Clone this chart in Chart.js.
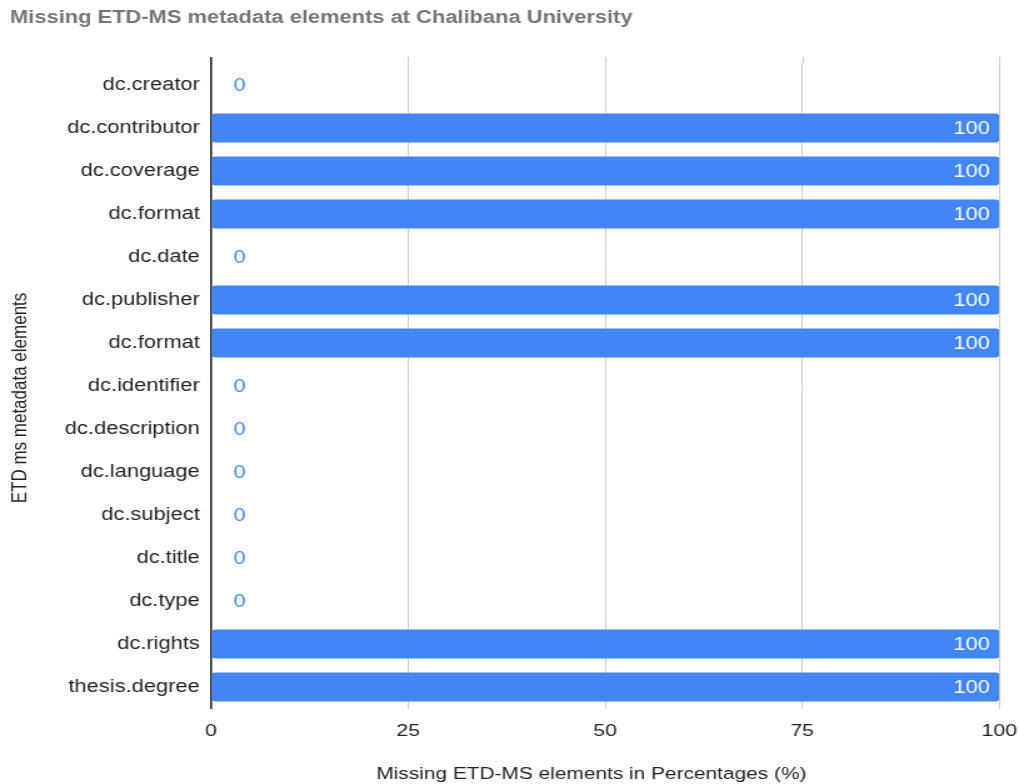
<!DOCTYPE html>
<html>
<head>
<meta charset="utf-8">
<title>Missing ETD-MS metadata elements</title>
<script src="https://cdn.jsdelivr.net/npm/chart.js@4/dist/chart.umd.min.js"></script>
<style>
    html, body { margin: 0; padding: 0; background: #fff; overflow: hidden; }
    /* the reference is stretched sideways, so the canvas is drawn narrow and widened */
    #chart { display: block; width: 1019px !important; height: 784px !important; }
</style>
</head>
<body>
<canvas id="chart" width="815" height="784"></canvas>
<script>
// --- Data ---
const categories = [
    'dc.creator', 'dc.contributor', 'dc.coverage', 'dc.format', 'dc.date',
    'dc.publisher', 'dc.format', 'dc.identifier', 'dc.description', 'dc.language',
    'dc.subject', 'dc.title', 'dc.type', 'dc.rights', 'thesis.degree'
];
const missingPercent = [0, 100, 100, 100, 0, 100, 100, 0, 0, 0, 0, 0, 0, 100, 100];
const xTickValues = [0, 25, 50, 75, 100];

const chartTitle = 'Missing ETD-MS metadata elements at Chalibana University';
const xAxisTitle = 'Missing ETD-MS elements in Percentages (%)';
const yAxisTitle = 'ETD ms metadata elements';

const BAR_BLUE = '#4285F4';
const FONT = "'Liberation Sans', Arial, sans-serif";

Chart.defaults.font.family = FONT;
Chart.defaults.color = '#222';

// grid lines in the reference start a little above the first band
const gridTop = {
    id: 'gridTop',
    beforeDatasetsDraw(chart) {
        const ctx = chart.ctx;
        const x = chart.scales.x;
        const top = chart.chartArea.top;
        ctx.save();
        xTickValues.forEach(v => {
            const px = Math.round(x.getPixelForValue(v)) + 0.5;
            ctx.strokeStyle = v === 0 ? '#222' : '#cccccc';
            ctx.lineWidth = v === 0 ? 1.6 : 1;
            ctx.beginPath();
            ctx.moveTo(v === 0 ? x.getPixelForValue(v) : px, top - 6.5);
            ctx.lineTo(v === 0 ? x.getPixelForValue(v) : px, top);
            ctx.stroke();
        });
        ctx.restore();
    }
};

// value labels at the bar ends
const barLabels = {
    id: 'barLabels',
    afterDatasetsDraw(chart) {
        const ctx = chart.ctx;
        const meta = chart.getDatasetMeta(0);
        ctx.save();
        ctx.font = `17.5px ${FONT}`;
        ctx.textBaseline = 'middle';
        meta.data.forEach((bar, i) => {
            const v = chart.data.datasets[0].data[i];
            if (v > 10) {
                ctx.fillStyle = '#fff';
                ctx.textAlign = 'right';
                ctx.fillText(String(v), bar.x - 7.5, bar.y + 1);
            } else {
                ctx.fillStyle = BAR_BLUE;
                ctx.textAlign = 'left';
                ctx.fillText(String(v), bar.base + 18, bar.y + 1);
            }
        });
        ctx.restore();
    }
};

// axis titles, placed like the reference (not centred on the plot)
const axisTitles = {
    id: 'axisTitles',
    afterDraw(chart) {
        const ctx = chart.ctx;
        ctx.save();
        ctx.fillStyle = '#222';
        ctx.textAlign = 'center';
        ctx.textBaseline = 'middle';
        ctx.font = `16.7px ${FONT}`;
        ctx.fillText(xAxisTitle, 473, 774);
        ctx.font = `17px ${FONT}`;
        ctx.translate(16, 398);
        ctx.rotate(-Math.PI / 2);
        ctx.fillText(yAxisTitle, 0, 0);
        ctx.restore();
    }
};

new Chart(document.getElementById('chart'), {
    type: 'bar',
    data: {
        labels: categories,
        datasets: [{
            data: missingPercent,
            backgroundColor: BAR_BLUE,
            borderRadius: 3,
            borderSkipped: false,
            categoryPercentage: 1,
            barPercentage: 0.674
        }]
    },
    options: {
        indexAxis: 'y',
        responsive: false,
        animation: false,
        devicePixelRatio: 1,
        layout: { padding: { left: 8, right: 15.8, top: 0, bottom: 0 } },
        plugins: {
            legend: { display: false },
            tooltip: { enabled: false },
            title: {
                display: true,
                text: chartTitle,
                align: 'start',
                color: '#757575',
                font: { size: 17.5, weight: 'bold' },
                padding: { top: 7.5, bottom: 35 }
            }
        },
        scales: {
            x: {
                min: 0,
                max: 100,
                afterBuildTicks: scale => { scale.ticks = xTickValues.map(v => ({ value: v })); },
                afterFit: scale => { scale.height = 75.5; scale.paddingLeft = 0; scale.paddingRight = 0; },
                grid: {
                    color: c => (c.tick && c.tick.value === 0 ? 'rgba(0,0,0,0)' : '#cccccc'),
                    lineWidth: 1,
                    drawTicks: false
                },
                border: { display: false },
                ticks: { padding: 13, color: '#222', font: { size: 17 } }
            },
            y: {
                afterFit: scale => { scale.width = 160.8; scale.paddingTop = 0; scale.paddingBottom = 0; },
                grid: { display: false },
                border: { display: true, color: '#222', width: 1.6 },
                ticks: { padding: 1, color: '#222', font: { size: 17.5 }, autoSkip: false }
            }
        }
    },
    plugins: [gridTop, barLabels, axisTitles]
});
</script>
</body>
</html>
